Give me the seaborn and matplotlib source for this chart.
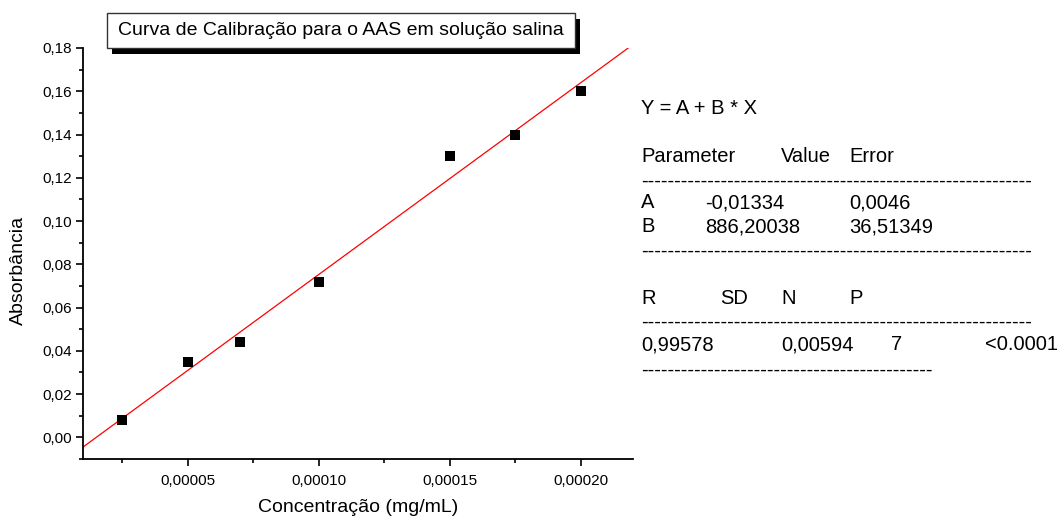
import numpy as np
import pandas as pd
import matplotlib
matplotlib.use("Agg")
import matplotlib.pyplot as plt
import matplotlib.ticker as mticker
from matplotlib.patches import Rectangle
import seaborn as sns

# Calibration standards
concentracao = [0.000025, 0.00005, 0.00007, 0.00010, 0.00015, 0.000175, 0.00020]
absorbancia = [0.008, 0.035, 0.044, 0.072, 0.130, 0.140, 0.160]

# Linear fit results  Y = A + B * X
param_a = -0.01334
param_b = 886.20038
erro_a = "0,0046"
erro_b = "36,51349"
r_val = "0,99578"
sd_val = "0,00594"
n_val = "7"
p_val = "<0.0001"

titulo = "Curva de Calibração para o AAS em solução salina"
x_label = "Concentração (mg/mL)"
y_label = "Absorbância"

W, H = 1057, 519
sns.set_theme(style="ticks")
plt.rcParams["font.family"] = ["Liberation Sans", "DejaVu Sans"]

fig = plt.figure(figsize=(W / 100, H / 100), dpi=100)
fig.patch.set_facecolor("white")


def fx(px):
    return px / W


def fy(py):
    return 1 - py / H


ax = fig.add_axes([fx(83), fy(459), fx(633) - fx(83), fy(48) - fy(459)])
ax.set_facecolor("white")

xlim = (0.00001, 0.00022)
ylim = (-0.01, 0.18)

df = pd.DataFrame({"x": concentracao, "y": absorbancia})
xs = np.array(xlim)
fit = pd.DataFrame({"x": xs, "y": param_a + param_b * xs})
sns.lineplot(data=fit, x="x", y="y", ax=ax, color="red", linewidth=0.9)
sns.scatterplot(data=df, x="x", y="y", ax=ax, marker="s", color="black",
                s=50, edgecolor="black", linewidth=0, zorder=3)

ax.set_xlim(*xlim)
ax.set_ylim(*ylim)
for side in ("top", "right"):
    ax.spines[side].set_visible(False)
for side in ("left", "bottom"):
    ax.spines[side].set_linewidth(1.3)
    ax.spines[side].set_color("black")

ax.xaxis.set_major_locator(mticker.MultipleLocator(0.00005))
ax.xaxis.set_minor_locator(mticker.MultipleLocator(0.000025))
ax.yaxis.set_major_locator(mticker.MultipleLocator(0.02))
ax.yaxis.set_minor_locator(mticker.MultipleLocator(0.01))
ax.xaxis.set_major_formatter(mticker.FuncFormatter(lambda v, p: f"{v:.5f}".replace(".", ",")))
ax.yaxis.set_major_formatter(mticker.FuncFormatter(lambda v, p: f"{v:.2f}".replace(".", ",")))
ax.tick_params(which="major", direction="out", length=5, width=1.2, labelsize=11,
               colors="black", pad=3)
ax.tick_params(which="minor", direction="out", length=3, width=1.2, colors="black")
ax.tick_params(axis="x", which="major", pad=6)

ax.set_xlabel(x_label, fontsize=14, labelpad=8, color="black")
ax.set_ylabel(y_label, fontsize=14, color="black")
ax.yaxis.set_label_coords(-0.102, 0.46)

# Title box with drop shadow
bx0, bx1, by0, by1 = 107, 575, 13, 48
fig.add_artist(Rectangle((fx(bx0 + 5), fy(by1 + 6)), fx(bx1) - fx(bx0), fy(by0) - fy(by1),
                         transform=fig.transFigure, facecolor="black", edgecolor="black",
                         linewidth=0, zorder=5))
fig.add_artist(Rectangle((fx(bx0), fy(by1)), fx(bx1) - fx(bx0), fy(by0) - fy(by1),
                         transform=fig.transFigure, facecolor="white", edgecolor="#333333",
                         linewidth=1.0, zorder=6))
fig.text(fx((bx0 + bx1) / 2), fy((by0 + by1) / 2), titulo, ha="center", va="center",
         fontsize=14, color="black", zorder=7)

# Fit report
fs = 14.5
dash_long = "-" * 59
dash_short = "-" * 44


def put(px, py, s):
    fig.text(fx(px), fy(py), s, ha="left", va="center", fontsize=fs, color="black")


put(641, 108, "Y = A + B * X")
put(641, 157, "Parameter")
put(781, 157, "Value")
put(849, 157, "Error")
put(641, 181, dash_long)
put(641, 203, "A")
put(705, 203, f"{param_a:.5f}".replace(".", ","))
put(849, 203, erro_a)
put(641, 227, "B")
put(705, 227, f"{param_b:.5f}".replace(".", ","))
put(849, 227, erro_b)
put(641, 251, dash_long)
put(641, 298, "R")
put(720, 298, "SD")
put(781, 298, "N")
put(849, 298, "P")
put(641, 322, dash_long)
put(641, 345, r_val)
put(781, 345, sd_val)
put(891, 345, n_val)
put(985, 345, p_val)
put(641, 370, dash_short)

fig.savefig("out.png", dpi=100, facecolor="white")
